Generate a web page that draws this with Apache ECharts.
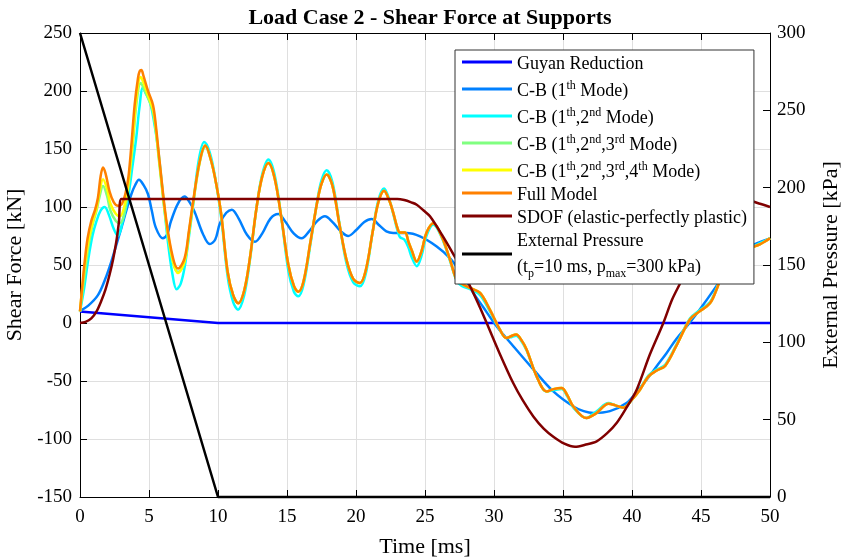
<!DOCTYPE html>
<html>
<head>
<meta charset="utf-8">
<title>Load Case 2 - Shear Force at Supports</title>
<script src="https://cdn.jsdelivr.net/npm/echarts@6/dist/echarts.min.js"></script>
<style>
  html, body { margin: 0; padding: 0; background: #fff; }
  #chart { width: 841px; height: 557px; }
</style>
</head>
<body>
<div id="chart"></div>
<script>
// time [ms] , shear force [kN]
var guyan = [[0, 10], [10, 0], [50, 0]];

var cb1 = [[0,10.5],[0.6,15],[1.3,24],[1.8,37],[2.27,53],[2.65,68],[3.0,82],[3.36,97],[3.72,111],[4.0,119],
  [4.27,123.5],[4.6,119],[4.93,111],[5.2,97],[5.5,82],[6.0,73],[6.3,76],[6.6,88],[7.1,103],[7.58,109],
  [7.95,104],[8.3,96],[8.9,77],[9.4,68],[9.8,72],[10.14,86],[10.6,95],[11.0,97.7],[11.5,90],[12.1,76],
  [12.68,70],[13.2,77],[13.8,90],[14.37,94],[14.9,87],[15.5,77],[16.06,73],[16.6,79],[17.2,88],[17.75,92],
  [18.3,87],[18.9,79],[19.44,75],[20.0,80],[20.6,87],[21.13,89.6],[21.7,84],[22.2,79],[22.7,77.6],[23.66,77.6],
  [24.64,74.7],[25.85,66],[26.8,56],[27.5,45],[28.5,26],[29.2,14],[30.2,-3],[31.4,-20],[32.85,-40],[34.3,-59],
  [35.75,-72],[36.5,-76],[37.2,-77.6],[38.4,-76],[39.6,-69],[40.3,-60],[41.06,-49],[41.8,-37],[42.5,-26],[43.2,-14],
  [43.96,-3],[44.9,11.5],[46.1,31.6],[46.9,46],[47.6,57],[48.55,66],[49.3,70],[50,73]];

var cb12 = [[0,10],[0.3,30],[0.6,55],[0.9,75],[1.2,88],[1.5,97],[1.79,100],[2.1,93],[2.45,81],[2.75,75],
  [3.1,88],[3.48,108],[3.8,135],[4.08,160],[4.3,185],[4.56,203],[4.8,197],[5.05,191],[5.3,178],[5.65,151],
  [6.0,112],[6.37,70],[6.7,42],[7.0,29],[7.3,34],[7.58,48],[7.9,75],[8.2,102],[8.6,140],[9.0,156],
  [9.4,147],[9.8,125],[10.24,90],[10.7,40],[11.1,18],[11.45,11.5],[11.9,24],[12.3,53],[12.8,100],[13.2,128],
  [13.65,141],[14.1,128],[14.6,90],[15.1,45],[15.5,27],[15.82,23],[16.2,33],[16.7,68],[17.2,106],[17.5,123],
  [17.87,131.6],[18.3,121],[18.8,86],[19.3,52],[19.8,35],[20.29,31.6],[20.7,42],[21.2,78],[21.6,105],[22.03,116],
  [22.4,107],[22.7,94],[23.0,80],[23.19,74],[23.5,72],[23.8,65],[24.03,57],[24.4,49],[24.75,58],[25.1,75],
  [25.6,85],[26.2,74],[26.8,54],[27.3,36],[27.66,32],[28.3,29],[28.99,24],[29.7,10],[30.43,-6],[30.9,-13],
  [31.3,-12],[31.6,-11],[32.0,-16],[32.37,-24],[33.09,-46],[33.82,-59],[34.3,-58],[34.9,-57],[35.3,-63],[35.75,-73],
  [36.7,-82],[37.1,-79],[37.44,-76],[38.3,-69],[38.8,-71],[39.37,-73],[40.0,-66],[40.58,-57],[41.2,-45],[41.8,-40],
  [42.4,-36],[43.2,-19],[44.2,4],[44.9,11],[45.65,18],[46.1,29],[46.6,44],[47.6,61],[48.55,65],[49.3,69],[50,73]];

var cb123 = [[0,10],[0.3,38],[0.6,65],[0.9,84],[1.2,97],[1.4,108],[1.67,118],[1.95,110],[2.2,97],[2.6,88],
  [2.9,86],[3.2,94],[3.48,115],[3.8,150],[4.1,190],[4.4,207],[4.7,200],[4.93,194],[5.29,182],[5.5,165],
  [5.77,135],[6.26,85],[6.74,52],[7.1,44],[7.58,53],[7.9,78],[8.2,103],[8.67,138],[9.08,152],[9.52,139],
  [9.9,118],[10.24,93],[10.7,44],[11.1,24],[11.47,17],[11.9,28],[12.3,55],[12.8,100],[13.2,126],[13.65,138],
  [14.1,125],[14.6,90],[15.1,50],[15.5,32],[15.82,27],[16.2,36],[16.7,70],[17.2,105],[17.5,120],[17.87,128],
  [18.3,118],[18.8,85],[19.3,55],[19.8,38],[20.29,34.5],[20.7,45],[21.2,78],[21.6,103],[22.03,114],[22.4,106],
  [22.7,95],[23.0,82],[23.19,78],[23.55,78],[23.8,70],[24.03,63],[24.4,53],[24.75,62],[25.1,77.6],[25.6,86],
  [26.2,75],[26.8,55],[27.3,37],[27.66,34],[28.3,30],[28.99,26],[29.7,11.5],[30.43,-5.8],[30.9,-13],[31.3,-11],
  [31.6,-10],[32.0,-15],[32.37,-23],[33.09,-46],[33.82,-59],[34.3,-57],[34.9,-56],[35.3,-62],[35.75,-72],[36.7,-82],
  [37.1,-80],[37.44,-77.6],[38.3,-69.6],[38.8,-71],[39.37,-73],[40.0,-66],[40.58,-57.5],[41.2,-46],[41.8,-41],[42.4,-37],
  [43.2,-20],[44.2,3],[44.9,10],[45.65,17],[46.1,28],[46.6,43],[47.6,60],[48.55,64.6],[49.3,68],[50,73]];

var cb1234 = [[0,10],[0.3,45],[0.6,70],[0.9,86],[1.2,99],[1.4,112],[1.67,124],[1.95,116],[2.2,103],[2.6,94],
  [2.9,92],[3.2,100],[3.48,118],[3.8,155],[4.1,195],[4.4,212],[4.7,204],[4.93,196],[5.29,184],[5.5,167],
  [5.77,137],[6.26,86],[6.74,53],[7.1,43],[7.58,53],[7.9,78],[8.2,104],[8.67,139],[9.08,153],[9.52,139],
  [9.9,118],[10.24,93],[10.7,44],[11.1,24],[11.47,17],[11.9,28],[12.3,55],[12.8,100],[13.2,126],[13.65,138],
  [14.1,125],[14.6,90],[15.1,50],[15.5,32],[15.82,27],[16.2,36],[16.7,70],[17.2,105],[17.5,120],[17.87,128],
  [18.3,118],[18.8,85],[19.3,55],[19.8,38],[20.29,34.5],[20.7,45],[21.2,78],[21.6,103],[22.03,114],[22.4,106],
  [22.7,95],[23.0,82],[23.19,78],[23.55,78],[23.8,70],[24.03,63],[24.4,53],[24.75,62],[25.1,77.6],[25.6,86],
  [26.2,75],[26.8,55],[27.3,37],[27.66,34],[28.3,30],[28.99,26],[29.7,11.5],[30.43,-5.8],[30.9,-13],[31.3,-11],
  [31.6,-10],[32.0,-15],[32.37,-23],[33.09,-46],[33.82,-59],[34.3,-57],[34.9,-56],[35.3,-62],[35.75,-72],[36.7,-82],
  [37.1,-80],[37.44,-77.6],[38.3,-69.6],[38.8,-71],[39.37,-73],[40.0,-66],[40.58,-57.5],[41.2,-46],[41.8,-41],[42.4,-37],
  [43.2,-20],[44.2,3],[44.9,10],[45.65,17],[46.1,28],[46.6,43],[47.6,60],[48.55,64.6],[49.3,68],[50,73]];

var fullModel = [[0,10],[0.15,30],[0.34,53],[0.55,73],[0.82,88],[1.1,98],[1.3,108],[1.5,127],[1.67,134],[1.85,129],
  [2.15,113],[2.45,104],[2.75,101],[3.05,103],[3.3,112],[3.5,125],[3.7,150],[3.96,188],[4.2,211],[4.32,217],
  [4.45,218],[4.6,213],[4.93,200],[5.29,188],[5.5,170],[5.77,139],[6.26,88],[6.74,56],[7.1,47],[7.58,56],
  [7.9,80],[8.2,105],[8.67,139],[9.08,153],[9.52,139],[9.9,118],[10.24,93],[10.7,44],[11.1,24],[11.47,17],
  [11.9,28],[12.3,55],[12.8,100],[13.2,126],[13.65,138],[14.1,125],[14.6,90],[15.1,50],[15.5,32],[15.82,27],
  [16.2,36],[16.7,70],[17.2,105],[17.5,120],[17.87,128],[18.3,118],[18.8,85],[19.3,55],[19.8,38],[20.29,34.5],
  [20.7,45],[21.2,78],[21.6,103],[22.03,114],[22.4,106],[22.7,95],[23.0,82],[23.19,78],[23.55,78],[23.8,70],
  [24.03,63],[24.4,53],[24.75,62],[25.1,77.6],[25.6,86],[26.2,75],[26.8,55],[27.3,37],[27.66,34],[28.3,30],
  [28.99,26],[29.7,11.5],[30.43,-5.8],[30.9,-13],[31.3,-11],[31.6,-10],[32.0,-15],[32.37,-23],[33.09,-46],[33.82,-59],
  [34.3,-57],[34.9,-56],[35.3,-62],[35.75,-72],[36.7,-82],[37.1,-80],[37.44,-77.6],[38.3,-69.6],[38.8,-71],[39.37,-73],
  [40.0,-66],[40.58,-57.5],[41.2,-46],[41.8,-41],[42.4,-37],[43.2,-20],[44.2,3],[44.9,10],[45.65,17],[46.1,28],
  [46.6,43],[47.6,60],[48.55,64.6],[49.3,68],[50,73]];

var sdof = [[0,0],[0.4,1],[0.82,4],[1.2,10],[1.54,19],[1.85,29],[2.15,42],[2.4,55],[2.63,70],[2.82,87],
  [3.0,107],[6,107],[10,107],[15,107],[20,107],[23.0,107],[23.5,106],[24.0,104],[24.4,102],[24.9,97],
  [25.36,92],[26.3,74.7],[27.17,57],[27.5,50],[28.0,38],[28.5,26],[29.0,13],[29.47,0],[30.4,-26],[31.4,-52],
  [32.1,-67],[32.85,-80.5],[33.6,-91],[34.3,-98],[35.1,-104],[35.87,-106.7],[36.6,-105],[37.44,-102],[38.2,-95],[38.9,-86],
  [39.6,-73],[40.34,-57.5],[41.3,-27],[42.27,0],[42.9,20],[43.5,34.5],[44.4,57],[45.2,75],[46.0,90],[46.8,101],
  [47.6,106],[48.3,106],[49.2,103],[50,100]];

// time [ms] , external pressure [kPa] (right axis)
var pressure = [[0, 300], [10, 0], [50, 0]];

var xTicks = { min: 0, max: 50, step: 5 };
var leftTicks = { min: -150, max: 250, step: 50 };
var rightTicks = { min: 0, max: 300, step: 50 };

var serif = 'Liberation Serif';
var gridColor = '#dfdfdf';

var legendText = {
  'Guyan Reduction': '{n|Guyan Reduction}',
  'C-B (1th Mode)': '{n|C-B (1}{s|th}{n| Mode)}',
  'C-B (1th,2nd Mode)': '{n|C-B (1}{s|th}{n|,2}{s|nd}{n| Mode)}',
  'C-B (1th,2nd,3rd Mode)': '{n|C-B (1}{s|th}{n|,2}{s|nd}{n|,3}{s|rd}{n| Mode)}',
  'C-B (1th,2nd,3rd,4th Mode)': '{n|C-B (1}{s|th}{n|,2}{s|nd}{n|,3}{s|rd}{n|,4}{s|th}{n| Mode)}',
  'Full Model': '{n|Full Model}',
  'SDOF (elastic-perfectly plastic)': '{n|SDOF (elastic-perfectly plastic)}',
  'External Pressure': '{e|External Pressure}\n{e|(t}{b|p}{e|=10 ms, p}{b|max}{e|=300 kPa)}'
};

function line(name, data, color, opts) {
  var s = {
    name: name,
    type: 'line',
    data: data,
    symbol: 'none',
    smooth: 0.35,
    lineStyle: { color: color, width: 2.5 },
    itemStyle: { color: color },
    emphasis: { disabled: true }
  };
  for (var k in opts) s[k] = opts[k];
  return s;
}

var chart = echarts.init(document.getElementById('chart'), null, { renderer: 'canvas' });

var option = {
  animation: false,
  backgroundColor: '#fff',
  title: {
    text: 'Load Case 2 - Shear Force at Supports',
    left: 425,
    textAlign: 'center',
    top: 2,
    textStyle: { fontFamily: serif, fontSize: 22, fontWeight: 'bold', color: '#000' }
  },
  grid: { left: 80, right: 71, top: 33, bottom: 60, containLabel: false, outerBoundsMode: 'none' },
  legend: {
    orient: 'vertical',
    left: 455,
    top: 50,
    padding: [5, 7, 4, 7],
    itemGap: 5,
    itemWidth: 50,
    itemHeight: 3,
    icon: 'rect',
    selectedMode: false,
    backgroundColor: '#fff',
    borderColor: '#333',
    borderWidth: 1,
    borderRadius: 0,
    formatter: function (name) { return legendText[name]; },
    textStyle: {
      fontFamily: serif, fontSize: 18, color: '#000',
      rich: {
        n: { fontFamily: serif, fontSize: 18, lineHeight: 22, verticalAlign: 'bottom', color: '#000' },
        s: { fontFamily: serif, fontSize: 12, lineHeight: 14, padding: [2, 0, 8, 0], verticalAlign: 'top', color: '#000' },
        e: { fontFamily: serif, fontSize: 18, lineHeight: 26, color: '#000' },
        b: { fontFamily: serif, fontSize: 12, lineHeight: 12, verticalAlign: 'bottom', color: '#000' }
      }
    }
  },
  xAxis: [{
    type: 'value',
    min: xTicks.min, max: xTicks.max, interval: xTicks.step,
    name: 'Time [ms]',
    nameLocation: 'middle',
    nameGap: 39,
    nameTextStyle: { fontFamily: serif, fontSize: 22, color: '#000' },
    axisLine: { show: true, onZero: false, lineStyle: { color: '#000', width: 1 } },
    axisTick: { show: true, inside: true, length: 7, lineStyle: { color: '#000' } },
    axisLabel: { fontFamily: serif, fontSize: 19, color: '#000', margin: 11, showMinLabel: true, showMaxLabel: true },
    splitLine: { show: true, lineStyle: { color: gridColor, width: 1 } }
  }, {
    type: 'value',
    position: 'top',
    min: xTicks.min, max: xTicks.max, interval: xTicks.step,
    axisLine: { show: true, onZero: false, lineStyle: { color: '#000', width: 1 } },
    axisTick: { show: true, inside: true, length: 7, lineStyle: { color: '#000' } },
    axisLabel: { show: false },
    splitLine: { show: false }
  }],
  yAxis: [{
    type: 'value',
    position: 'left',
    min: leftTicks.min, max: leftTicks.max, interval: leftTicks.step,
    name: 'Shear Force [kN]',
    nameLocation: 'middle',
    nameGap: 45,
    nameTextStyle: { fontFamily: serif, fontSize: 22, color: '#000' },
    axisLine: { show: true, onZero: false, lineStyle: { color: '#000', width: 1 } },
    axisTick: { show: true, inside: true, length: 7, lineStyle: { color: '#000' } },
    axisLabel: { fontFamily: serif, fontSize: 19, color: '#000', margin: 8, showMinLabel: true, showMaxLabel: true },
    splitLine: { show: true, lineStyle: { color: gridColor, width: 1 } }
  }, {
    type: 'value',
    position: 'right',
    min: rightTicks.min, max: rightTicks.max, interval: rightTicks.step,
    name: 'External Pressure [kPa]',
    nameLocation: 'middle',
    nameGap: 50,
    nameTextStyle: { fontFamily: serif, fontSize: 22, color: '#000' },
    axisLine: { show: true, onZero: false, lineStyle: { color: '#000', width: 1 } },
    axisTick: { show: true, inside: true, length: 7, lineStyle: { color: '#000' } },
    axisLabel: { fontFamily: serif, fontSize: 19, color: '#000', margin: 7, showMinLabel: true, showMaxLabel: true },
    splitLine: { show: false }
  }],
  series: [
    line('Guyan Reduction', guyan, '#0000ff', { smooth: false }),
    line('C-B (1th Mode)', cb1, '#0080ff'),
    line('C-B (1th,2nd Mode)', cb12, '#00ffff'),
    line('C-B (1th,2nd,3rd Mode)', cb123, '#80ff80'),
    line('C-B (1th,2nd,3rd,4th Mode)', cb1234, '#ffff00'),
    line('Full Model', fullModel, '#ff8000'),
    line('SDOF (elastic-perfectly plastic)', sdof, '#800000', { smooth: 0.3 }),
    line('External Pressure', pressure, '#000000', { smooth: false, yAxisIndex: 1, clip: false })
  ]
};

chart.setOption(option);
</script>
</body>
</html>
